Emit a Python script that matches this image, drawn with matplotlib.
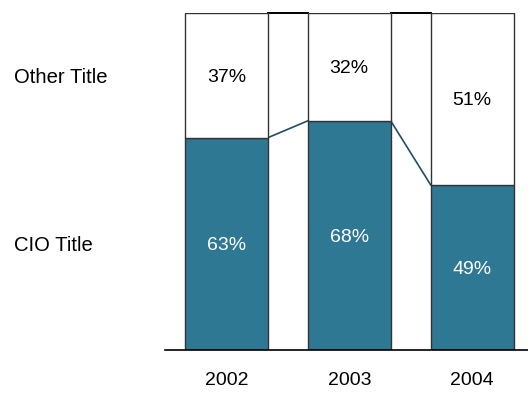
#Stacked 100% bars: CIO title vs other title by year

import matplotlib
matplotlib.use('Agg')
import matplotlib.pyplot as plt
import matplotlib.transforms as mtransforms

years = ['2002', '2003', '2004']
cio_share = [0.63, 0.68, 0.49]
other_share = [0.37, 0.32, 0.51]
cio_labels = ['63%', '68%', '49%']
other_labels = ['37%', '32%', '51%']
row_labels = ['Other Title', 'CIO Title']

teal = '#2E7894'
edge = '#333333'
bar_w = 0.675

plt.rcParams['font.family'] = ['Liberation Sans', 'DejaVu Sans']

fig = plt.figure(figsize=(5.28, 3.94), dpi=100)
ax = fig.add_axes([165 / 528, 1 - 350 / 394, 363 / 528, 337 / 394])

x = list(range(len(years)))
ax.bar(x, cio_share, width=bar_w, color=teal, edgecolor=edge, linewidth=1, zorder=2)
ax.bar(x, other_share, width=bar_w, bottom=cio_share, color='white',
	edgecolor=edge, linewidth=1, zorder=2)

#series lines between the bars
for i in range(len(years) - 1):
	x0 = x[i] + bar_w / 2
	x1 = x[i + 1] - bar_w / 2
	ax.plot([x0, x1], [cio_share[i], cio_share[i + 1]], color='#1F4E63', lw=1.2, zorder=1)
	ax.plot([x0, x1], [1, 1], color='black', lw=1.4, zorder=1, clip_on=False)

for i in x:
	ax.text(i, cio_share[i] / 2, cio_labels[i], ha='center', va='center_baseline',
		color='white', fontsize=14)
	ax.text(i, cio_share[i] + other_share[i] / 2, other_labels[i], ha='center',
		va='center_baseline', color='black', fontsize=14)

#row labels on the left
trans = mtransforms.blended_transform_factory(fig.transFigure, ax.transData)
fig.text(14 / 528, cio_share[0] + other_share[0] / 2, row_labels[0], transform=trans,
	ha='left', va='center_baseline', fontsize=14.6)
fig.text(14 / 528, cio_share[0] / 2, row_labels[1], transform=trans,
	ha='left', va='center_baseline', fontsize=14.6)

ax.set_xlim(-0.5, 2.455)
ax.set_ylim(0, 1)
ax.set_xticks(x)
ax.set_xticklabels(years, fontsize=14)
ax.tick_params(axis='x', length=0, pad=16)
ax.set_yticks([])
for side in ['top', 'left', 'right']:
	ax.spines[side].set_visible(False)
ax.spines['bottom'].set_linewidth(1.2)
ax.spines['bottom'].set_zorder(3)

fig.savefig('out.png', dpi=100)
